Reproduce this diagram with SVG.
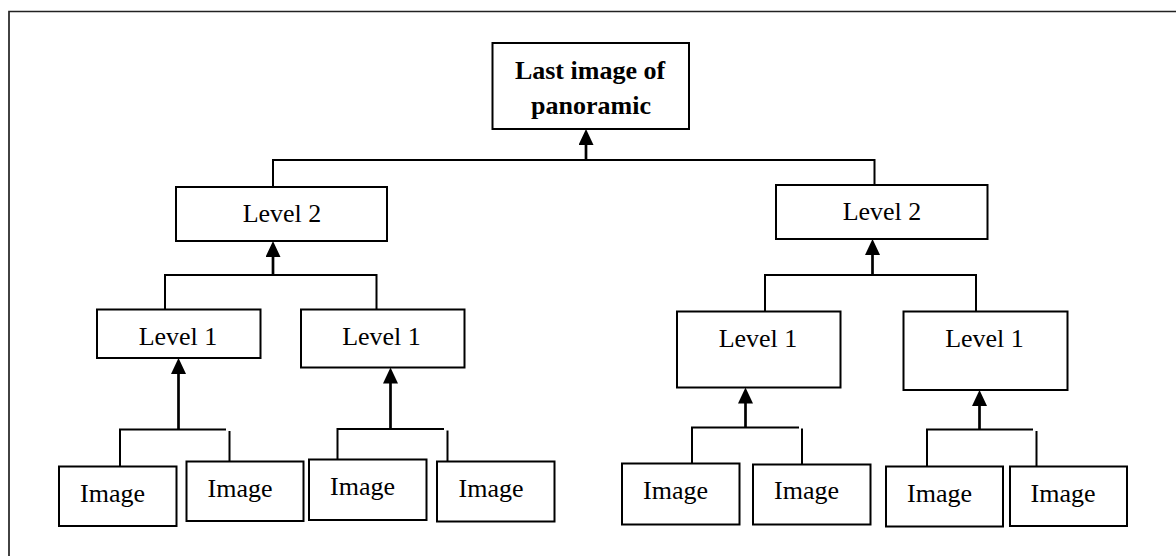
<svg xmlns="http://www.w3.org/2000/svg" width="1176" height="556" viewBox="0 0 1176 556">
<style>
.box{fill:#fff;stroke:#000;stroke-width:2}
.t{font-family:"Liberation Serif","Times New Roman",serif;font-size:26px;fill:#000;text-anchor:middle}
.b{font-weight:bold}
.ln{fill:none;stroke:#000;stroke-width:2}
.ar{fill:none;stroke:#000;stroke-width:2.7;marker-end:url(#ah)}
.frame{fill:none;stroke:#222;stroke-width:1.7}
</style>
<defs>
<marker id="ah" viewBox="0 0 16 15" markerWidth="16" markerHeight="15" refX="12" refY="7.5" orient="auto" markerUnits="userSpaceOnUse">
<path d="M0,0 L16,7.5 L0,15 z" fill="#000"/>
</marker>
</defs>
<rect width="1176" height="556" fill="#fff"/>
<path class="frame" d="M9,556 V11.5 H1176"/>
<g id="connectors">
<path class="ln" d="M273,187 V160 H874.5 V185"/>
<line class="ar" x1="586" y1="160" x2="586" y2="133"/>
<path class="ln" d="M165,309.5 V275 H376.5 V309.5"/>
<line class="ar" x1="273" y1="275" x2="273" y2="245"/>
<path class="ln" d="M765,311.5 V275 H976 V311.5"/>
<line class="ar" x1="872.5" y1="275" x2="872.5" y2="243"/>
<path class="ln" d="M120,466.5 V429.5 H226"/>
<line class="ln" x1="229.5" y1="431" x2="229.5" y2="461.5"/>
<line class="ar" x1="178.5" y1="429.5" x2="178.5" y2="362"/>
<path class="ln" d="M337.5,459.5 V429 H444"/>
<line class="ln" x1="447.5" y1="430.5" x2="447.5" y2="461.5"/>
<line class="ar" x1="390.5" y1="429" x2="390.5" y2="371.5"/>
<path class="ln" d="M692,463.5 V427.5 H799"/>
<line class="ln" x1="802" y1="428.5" x2="802" y2="464.5"/>
<line class="ar" x1="745.5" y1="427.5" x2="745.5" y2="391.5"/>
<path class="ln" d="M927,466.5 V429.5 H1033"/>
<line class="ln" x1="1036.5" y1="431" x2="1036.5" y2="466.5"/>
<line class="ar" x1="979.5" y1="429.5" x2="979.5" y2="394"/>
</g>
<g id="top">
<rect class="box" x="492.5" y="43" width="196.5" height="86"/>
<text class="t b" x="590" y="78.5">Last image of</text>
<text class="t b" x="591" y="113.5">panoramic</text>
</g>
<g id="level2-left">
<rect class="box" x="176" y="187" width="211" height="54"/>
<text class="t" x="282" y="222">Level 2</text>
</g>
<g id="level2-right">
<rect class="box" x="776" y="185" width="211.5" height="54"/>
<text class="t" x="882" y="220">Level 2</text>
</g>
<g id="level1-a">
<rect class="box" x="97" y="309.5" width="163.5" height="48.5"/>
<text class="t" x="178" y="345">Level 1</text>
</g>
<g id="level1-b">
<rect class="box" x="301" y="309.5" width="163.5" height="58"/>
<text class="t" x="381.5" y="345">Level 1</text>
</g>
<g id="level1-c">
<rect class="box" x="677" y="311.5" width="163.5" height="76"/>
<text class="t" x="758" y="346.5">Level 1</text>
</g>
<g id="level1-d">
<rect class="box" x="903.5" y="311.5" width="164" height="78.5"/>
<text class="t" x="984.5" y="346.5">Level 1</text>
</g>
<g id="image-1">
<rect class="box" x="59" y="466.5" width="117.5" height="59.5"/>
<text class="t" x="112.5" y="502">Image</text>
</g>
<g id="image-2">
<rect class="box" x="186.5" y="461.5" width="117" height="59.5"/>
<text class="t" x="240" y="497">Image</text>
</g>
<g id="image-3">
<rect class="box" x="309" y="459.5" width="117.5" height="60.5"/>
<text class="t" x="362.5" y="495">Image</text>
</g>
<g id="image-4">
<rect class="box" x="437" y="461.5" width="117.5" height="60"/>
<text class="t" x="491" y="497">Image</text>
</g>
<g id="image-5">
<rect class="box" x="622" y="463.5" width="117.5" height="61"/>
<text class="t" x="675.5" y="498.5">Image</text>
</g>
<g id="image-6">
<rect class="box" x="753" y="464.5" width="117.5" height="60"/>
<text class="t" x="806.5" y="499">Image</text>
</g>
<g id="image-7">
<rect class="box" x="886" y="466.5" width="117" height="60"/>
<text class="t" x="939.5" y="501.5">Image</text>
</g>
<g id="image-8">
<rect class="box" x="1010" y="466.5" width="117" height="59.5"/>
<text class="t" x="1063" y="501.5">Image</text>
</g>
</svg>
